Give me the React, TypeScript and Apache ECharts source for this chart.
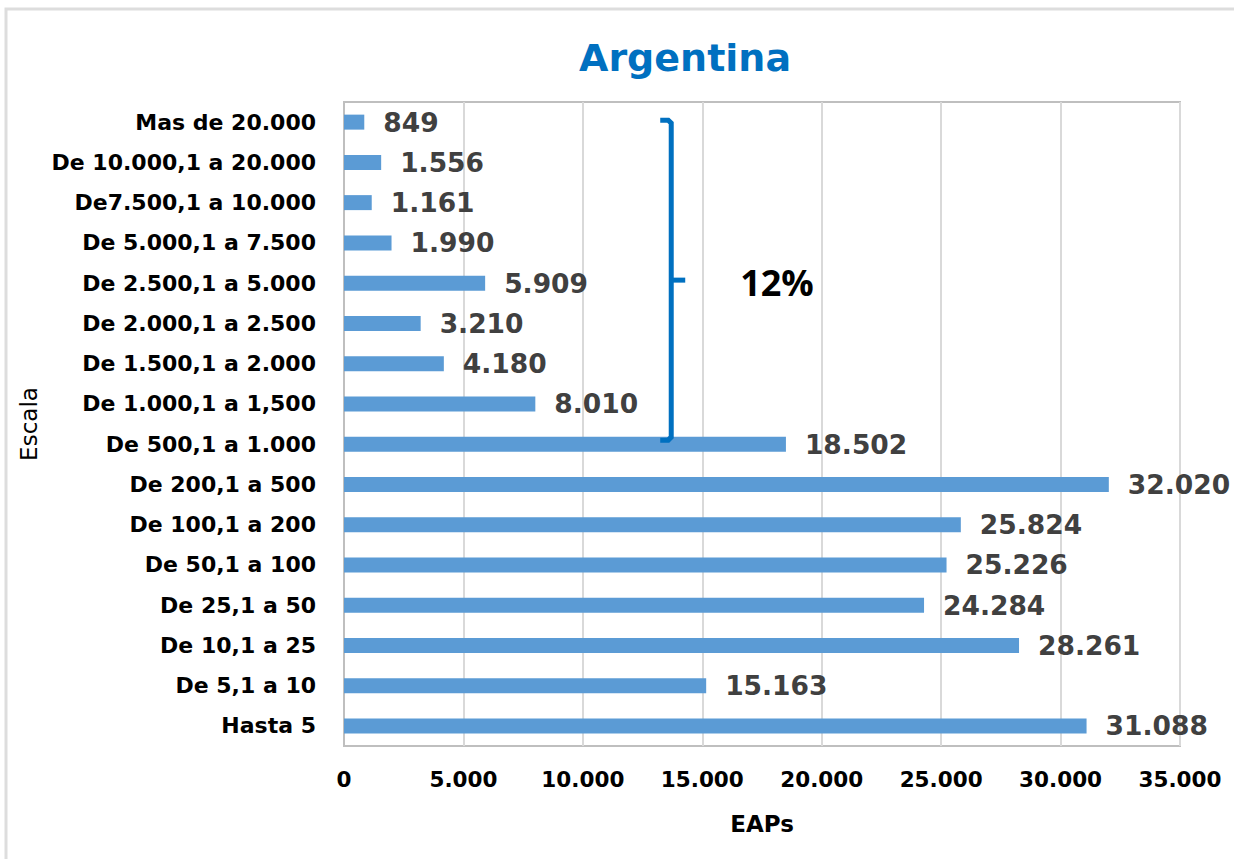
import React, { useEffect, useRef } from "react";
import * as echarts from "echarts";

const categories = [
  "Hasta 5",
  "De 5,1 a 10",
  "De 10,1 a 25",
  "De 25,1 a 50",
  "De 50,1 a 100",
  "De 100,1 a 200",
  "De 200,1 a 500",
  "De 500,1 a 1.000",
  "De 1.000,1 a 1,500",
  "De 1.500,1 a 2.000",
  "De 2.000,1 a 2.500",
  "De 2.500,1 a 5.000",
  "De 5.000,1 a 7.500",
  "De7.500,1 a 10.000",
  "De 10.000,1 a 20.000",
  "Mas de 20.000",
];
const values = [31088, 15163, 28261, 24284, 25226, 25824, 32020, 18502, 8010, 4180, 3210, 5909, 1990, 1161, 1556, 849];
const xTicks = { min: 0, max: 35000, interval: 5000 };
const titleText = "Argentina";
const xName = "EAPs";
const yName = "Escala";
const bracketLabel = "12%";
const bracketTop = "Mas de 20.000";
const bracketBottom = "De 500,1 a 1.000";
const bracketValue = 13700;

const fmt = (v: number) => String(Math.round(v)).replace(/\B(?=(\d{3})+(?!\d))/g, ".");

export default function App() {
  const ref = useRef<HTMLDivElement>(null);
  useEffect(() => {
    document.body.style.margin = "0";
    const chart = echarts.init(ref.current!, null, { renderer: "svg" });
    const FONT = "DejaVu Sans";
    chart.setOption({
      animation: false,
      backgroundColor: "#ffffff",
      title: {
        text: titleText,
        left: 680,
        top: 34,
        textAlign: "center",
        textStyle: { fontFamily: FONT, fontWeight: "bold", fontSize: 38, color: "#0070C0" },
      },
      grid: {
        left: 344,
        right: 54,
        top: 102,
        bottom: 113,
        show: true,
        borderColor: "#BFBFBF",
        borderWidth: 2,
        containLabel: false,
      },
      xAxis: {
        type: "value",
        min: xTicks.min,
        max: xTicks.max,
        interval: xTicks.interval,
        name: xName,
        nameLocation: "middle",
        nameGap: 66,
        nameTextStyle: { fontFamily: FONT, fontWeight: "bold", fontSize: 23, color: "#000" },
        axisLine: { show: false },
        axisTick: { show: false },
        axisLabel: {
          formatter: (v: number) => fmt(v),
          fontFamily: FONT,
          fontWeight: "bold",
          fontSize: 21.5,
          color: "#000",
          margin: 22,
        },
        splitLine: { show: true, lineStyle: { color: "#D9D9D9", width: 2 } },
      },
      yAxis: {
        type: "category",
        data: categories,
        name: yName,
        nameLocation: "middle",
        nameRotate: 90,
        nameGap: 300,
        nameTextStyle: { fontFamily: FONT, fontSize: 23, color: "#000" },
        axisLine: { show: true, lineStyle: { color: "#BFBFBF", width: 2 } },
        axisTick: { show: false },
        axisLabel: {
          fontFamily: FONT,
          fontWeight: "bold",
          fontSize: 22,
          color: "#000",
          margin: 28,
        },
        splitLine: { show: false },
      },
      series: [
        {
          type: "bar",
          data: values,
          barWidth: 15,
          itemStyle: { color: "#5B9BD5" },
          label: {
            show: true,
            position: "right",
            distance: 19,
            formatter: (p: any) => fmt(p.value),
            fontFamily: FONT,
            fontWeight: "bold",
            fontSize: 26.5,
            color: "#404040",
          },
        },
      ],
    });

    const top = chart.convertToPixel({ gridIndex: 0 }, [bracketValue, bracketTop]) as number[];
    const bot = chart.convertToPixel({ gridIndex: 0 }, [bracketValue, bracketBottom]) as number[];
    const x = top[0];
    const y1 = top[1] - 2;
    const y2 = bot[1] - 4;
    const ym = (y1 + y2) / 2;
    chart.setOption({
      graphic: [
        {
          type: "rect",
          z: 100,
          shape: { x: 6, y: 9, width: 1240, height: 900 },
          style: { fill: "none", stroke: "#DDDDDD", lineWidth: 3 },
          silent: true,
        },
        {
          type: "polyline",
          z: 100,
          shape: {
            points: [
              [x - 11, y1],
              [x - 3, y1],
              [x, y1 + 3],
              [x, y2 - 3],
              [x - 3, y2],
              [x - 11, y2],
            ],
          },
          style: { fill: "none", stroke: "#0070C0", lineWidth: 5 },
        },
        {
          type: "line",
          z: 100,
          shape: { x1: x, y1: ym, x2: x + 14, y2: ym },
          style: { stroke: "#0070C0", lineWidth: 5 },
        },
        {
          type: "text",
          z: 100,
          x: 777,
          y: ym + 2,
          style: {
            text: bracketLabel,
            fontFamily: "Open Sans",
            fontWeight: "bold",
            fontSize: 36,
            fill: "#000",
            align: "center",
            verticalAlign: "middle",
          },
        },
      ],
    });
    return () => chart.dispose();
  }, []);
  return <div ref={ref} style={{ width: 1234, height: 859 }} />;
}
